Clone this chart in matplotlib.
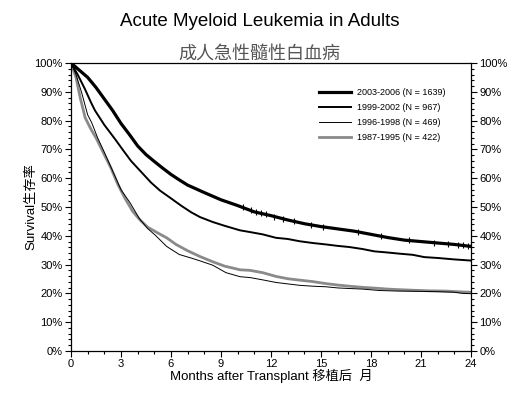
import numpy as np
import matplotlib
matplotlib.use("Agg")
import matplotlib.pyplot as plt
from matplotlib.ticker import MultipleLocator, FuncFormatter

plt.rcParams['font.family'] = ['Liberation Sans', 'Noto Sans CJK SC']

# survival curves, months after transplant vs. % surviving
t_0306 = [0, 0.5, 1, 1.5, 2, 2.5, 3, 3.5, 4, 4.5, 5, 5.5, 6, 6.5, 7, 8, 9, 10, 11, 12,
          13, 14, 15, 16, 17, 18, 19, 20, 21, 22, 23, 24]
s_0306 = [100, 97.5, 95, 91.5, 87.5, 83.5, 79, 75.2, 71.2, 68.2, 65.8, 63.5, 61.3, 59.4, 57.6, 55,
          52.5, 50.5, 48.3, 47, 45.5, 44.2, 43.2, 42.4, 41.6, 40.5, 39.4, 38.5, 38.0, 37.5, 37, 36.3]

t_9902 = [0, 0.4, 0.84, 1.2, 1.44, 2, 2.64, 3.14, 3.6, 4.24, 4.8, 5.34, 6, 6.6, 7.2, 7.74,
          8.5, 9.2, 10.14, 10.74, 11.5, 12.3, 13, 13.73, 14.5, 15.3, 16, 16.7, 17.5, 18.2,
          19, 19.7, 20.5, 21.2, 22, 23, 24]
s_9902 = [100, 96, 90.9, 86.3, 83.5, 78.5, 73.6, 69.6, 66, 62, 58.5, 55.7, 53, 50.5, 48.2, 46.5,
          44.8, 43.5, 41.9, 41.3, 40.5, 39.3, 38.9, 38.1, 37.5, 37.0, 36.5, 36.1, 35.4, 34.6,
          34.2, 33.8, 33.4, 32.6, 32.3, 31.8, 31.4]

t_9698 = [0, 0.3, 0.64, 1.0, 1.24, 1.6, 2.0, 2.5, 3.0, 3.54, 4.1, 4.6, 5.04, 5.74, 6.5, 7.2,
          7.74, 8.5, 9.3, 10.14, 10.74, 11.5, 12.3, 13, 13.73, 14.5, 15.3, 16, 16.7, 17.5,
          18.5, 19.7, 21, 22, 23, 23.5, 24]
s_9698 = [100, 96, 89.7, 82, 79.3, 74, 69, 62.5, 56, 51.5, 46, 42.5, 40.3, 36.3, 33.5, 32.3,
          31.3, 29.8, 27.2, 25.8, 25.5, 24.7, 23.8, 23.3, 22.8, 22.5, 22.3, 21.9, 21.7, 21.5,
          21.0, 20.8, 20.7, 20.6, 20.4, 20.0, 19.9]

t_8795 = [0, 0.3, 0.55, 0.85, 1.2, 1.5, 1.8, 2.1, 2.4, 2.8, 3.24, 3.7, 4.14, 4.6, 5.2, 5.74,
          6.3, 7, 7.74, 8.5, 9.2, 10.14, 10.74, 11.5, 12.3, 13, 13.73, 14.5, 15.3, 16, 16.7,
          17.5, 18.3, 19, 19.7, 20.5, 21.5, 22.5, 23.5, 24]
s_8795 = [100, 95, 88, 81, 77, 74, 70.5, 67, 63.5, 58, 53, 48.5, 45.5, 43, 41, 39.3,
          37, 34.8, 32.8, 31, 29.5, 28.2, 28.0, 27.2, 25.9, 25.1, 24.6, 24.1, 23.4, 22.9, 22.5,
          22.1, 21.8, 21.5, 21.3, 21.1, 20.9, 20.8, 20.5, 20.4]

# censored observations on the 2003-2006 curve
cens_t = [10.3, 10.8, 11.1, 11.4, 11.7, 12.2, 12.7, 13.4, 14.4, 15.1, 17.2, 18.6, 20.3,
          21.8, 22.6, 23.2, 23.5, 23.8, 24.0]
cens_s = [50.0, 48.8, 48.2, 47.8, 47.4, 46.7, 46.0, 45.0, 43.8, 43.1, 41.4, 39.8, 38.4,
          37.6, 37.2, 36.9, 36.7, 36.5, 36.3]

labels = ["2003-2006 (N = 1639)", "1999-2002 (N = 967)",
          "1996-1998 (N = 469)", "1987-1995 (N = 422)"]

fig = plt.figure(figsize=(5.12, 3.98), dpi=100)
ax = fig.add_axes([71/512, 1-351/398, 400/512, 288/398])

ax.plot(t_0306, s_0306, color='black', lw=2.3, label=labels[0], zorder=5)
ax.plot(t_9902, s_9902, color='black', lw=1.4, label=labels[1], zorder=4)
ax.plot(t_9698, s_9698, color='black', lw=0.7, label=labels[2], zorder=3)
ax.plot(t_8795, s_8795, color='#8a8a8a', lw=2.0, label=labels[3], zorder=2)
ax.plot(cens_t, cens_s, ls='none', marker='|', ms=4, mew=0.8, color='black', zorder=6)

ax.set_xlim(0, 24)
ax.set_ylim(0, 100)
ax.xaxis.set_major_locator(MultipleLocator(3))
ax.xaxis.set_minor_locator(MultipleLocator(1))
ax.yaxis.set_major_locator(MultipleLocator(10))
ax.yaxis.set_minor_locator(MultipleLocator(2))
ax.yaxis.set_major_formatter(FuncFormatter(lambda v, p: f"{v:.0f}%"))

ax.tick_params(which='both', direction='out', right=True, labelright=True, width=0.8,
               labelsize=8, pad=2)
ax.tick_params(which='major', length=4)
ax.tick_params(which='minor', length=2)
for sp in ax.spines.values():
    sp.set_linewidth(0.9)

ax.set_xlabel("Months after Transplant 移植后  月", fontsize=9.5, labelpad=0)
ax.set_ylabel("Survival生存率", fontsize=9.5)
ax.yaxis.set_label_coords(-0.085, 0.5)

leg = ax.legend(loc='upper left', bbox_to_anchor=(0.6, 0.94), frameon=False,
                fontsize=6.5, handlelength=3.5, handletextpad=0.7, labelspacing=0.66)

fig.text(260/512, 1-26/398, "Acute Myeloid Leukemia in Adults", ha='center',
         va='baseline', fontsize=13.5)
fig.text(259/512, 1-54/398, "成人急性髓性白血病", ha='center', va='center',
         fontsize=13, color='#555555', fontweight='light', family=['Noto Sans CJK SC'])

fig.savefig("out.png", dpi=100)
